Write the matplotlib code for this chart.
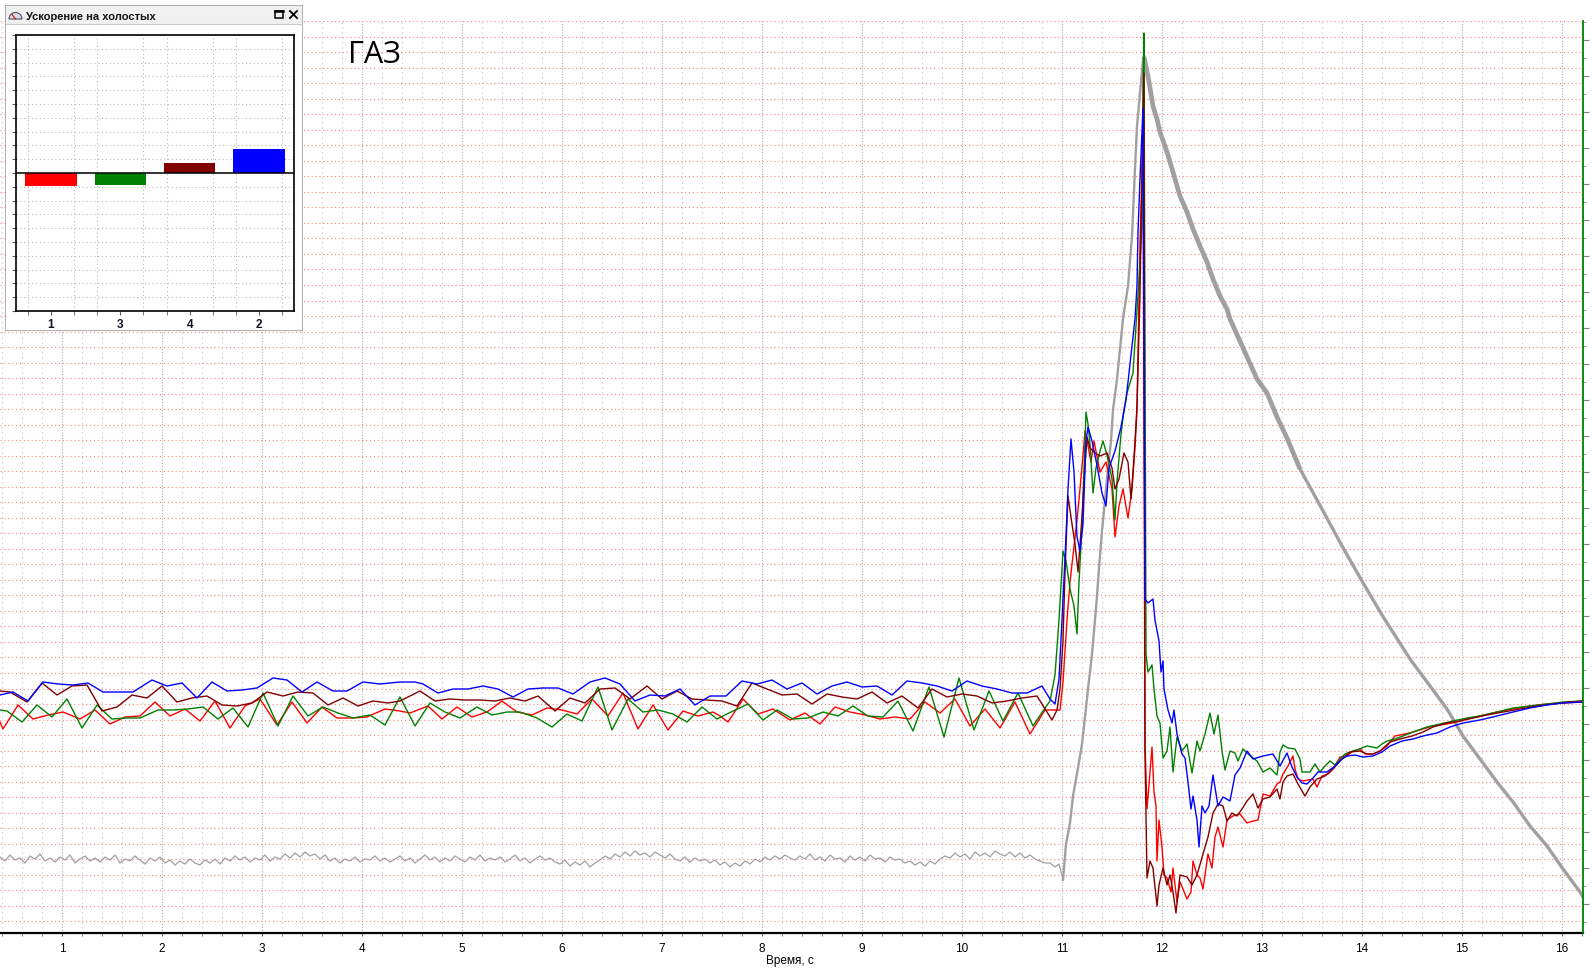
import matplotlib
matplotlib.use("Agg")
import matplotlib.pyplot as plt
import numpy as np
from matplotlib.patches import Rectangle, Wedge

plt.rcParams['font.family'] = ['Liberation Sans', 'DejaVu Sans']

# ---- main chart data: time (s), signal (arb. units) ----
blue = [(0.38,238),(0.51,241),(0.66,232),(0.81,251),(0.96,249),(1.11,248),(1.26,250),(1.41,241),(1.56,241),(1.71,241),
        (1.90,253),(2.05,247),(2.20,250),(2.35,235),(2.50,251),(2.65,242),(2.80,243),(2.95,245),(3.11,255),(3.25,253),
        (3.40,241),(3.55,251),(3.71,242),(3.85,242),(4.01,251),(4.18,249),(4.38,251),(4.53,251),(4.61,249),(4.76,240),
        (4.91,244),(5.06,244),(5.21,247),(5.36,244),(5.51,236),(5.66,244),(5.81,245),(5.96,245),(6.11,239),(6.28,251),
        (6.43,255),(6.58,249),(6.73,232),(6.88,238),(7.03,237),(7.18,244),(7.33,228),(7.48,237),(7.64,237),(7.80,252),
        (7.95,249),(8.10,253),(8.25,244),(8.40,250),(8.55,239),(8.70,247),(8.85,251),(9.00,246),(9.15,247),(9.30,238),
        (9.45,252),(9.60,250),(9.75,247),(9.90,242),(10.05,252),(10.20,247),(10.35,244),(10.50,240),(10.65,240),(10.80,247),
        (10.88,234),(10.93,229),(10.97,254),(11.00,313),(11.03,375),(11.06,444),(11.09,494),(11.12,461),(11.15,396),(11.18,382),
        (11.21,409),(11.24,492),(11.26,506),(11.30,492),(11.35,468),(11.40,440),(11.44,427),(11.47,465),(11.53,482),(11.59,506),
        (11.64,533),(11.73,614),(11.75,647),(11.76,701),(11.78,754),(11.80,801),(11.81,825),(11.83,334),(11.86,330),(11.91,334),
        (11.93,313),(11.97,292),(11.99,261),(12.01,272),(12.02,244),(12.06,223),(12.10,210),(12.12,223),(12.15,199),(12.20,179),
        (12.23,175),(12.26,151),(12.29,124),(12.31,137),(12.35,113),(12.37,86),(12.40,127),(12.43,120),(12.47,127),(12.51,158),
        (12.56,127),(12.61,136),(12.68,132),(12.73,158),(12.78,165),(12.85,182),(12.91,174),(13.01,177),(13.11,179),(13.18,167),
        (13.25,180),(13.30,166),(13.35,156),(13.40,150),(13.45,149),(13.51,155),(13.56,161),(13.65,161),(13.73,167),(13.80,174),
        (13.85,177),(13.93,178),(14.01,176),(14.11,177),(14.20,181),(14.28,187),(14.40,192),(14.51,194),(14.61,197),(14.75,200),
        (14.88,206),(15.01,210),(15.18,213),(15.35,217),(15.51,221),(15.68,225),(15.85,228),(16.01,230),(16.21,231)]

red = [(0.38,211),(0.41,204),(0.56,228),(0.71,214),(0.86,218),(1.01,221),(1.18,214),(1.33,223),(1.48,209),(1.63,216),
       (1.78,217),(1.93,231),(2.08,217),(2.23,224),(2.38,212),(2.53,232),(2.68,205),(2.83,227),(2.98,234),(3.15,208),
       (3.30,231),(3.45,210),(3.60,226),(3.75,215),(3.90,215),(4.05,216),(4.23,224),(4.38,222),(4.48,220),(4.66,227),
       (4.80,214),(4.95,226),(5.10,216),(5.25,221),(5.40,232),(5.55,221),(5.70,218),(5.85,225),(6.00,223),(6.15,219),
       (6.30,234),(6.46,217),(6.61,240),(6.76,204),(6.91,228),(7.06,203),(7.21,222),(7.36,217),(7.51,221),(7.58,217),
       (7.66,211),(7.81,234),(7.96,219),(8.11,224),(8.28,213),(8.43,220),(8.58,209),(8.73,226),(8.88,221),(9.03,218),
       (9.18,214),(9.33,216),(9.48,214),(9.63,231),(9.78,220),(9.93,234),(10.08,207),(10.23,224),(10.38,205),(10.53,231),
       (10.68,199),(10.83,223),(10.91,223),(10.98,223),(11.01,251),(11.05,313),(11.08,351),(11.11,378),(11.15,413),(11.18,444),
       (11.21,478),(11.23,502),(11.26,487),(11.29,471),(11.32,492),(11.38,461),(11.44,471),(11.50,444),(11.53,396),(11.57,427),
       (11.61,444),(11.66,415),(11.70,444),(11.73,485),(11.75,523),(11.77,631),(11.78,690),(11.80,760),(11.81,790),(11.83,190),
       (11.85,124),(11.87,148),(11.90,186),(11.92,141),(11.94,127),(11.95,72),(11.97,113),(12.00,86),(12.02,58),(12.05,55),
       (12.09,41),(12.11,65),(12.15,31),(12.18,51),(12.21,44),(12.25,34),(12.29,41),(12.31,72),(12.35,58),(12.38,55),
       (12.41,44),(12.43,58),(12.46,79),(12.50,65),(12.53,96),(12.56,106),(12.61,86),(12.65,113),(12.71,117),(12.78,119),
       (12.85,110),(12.91,112),(12.96,113),(13.01,139),(13.08,137),(13.15,149),(13.18,151),(13.21,159),(13.26,167),(13.31,177),
       (13.33,164),(13.36,154),(13.41,152),(13.46,153),(13.51,154),(13.55,146),(13.60,157),(13.66,159),(13.71,164),(13.78,176),
       (13.85,177),(13.91,182),(13.98,184),(14.03,179),(14.11,179),(14.18,182),(14.25,187),(14.33,197),(14.43,199),(14.51,201),
       (14.61,204),(14.71,207),(14.85,209),(14.95,211),(15.05,214),(15.18,217),(15.35,221),(15.51,224),(15.68,227),(15.85,229),
       (16.01,230),(16.21,231)]

green = [(0.38,223),(0.45,222),(0.60,211),(0.75,228),(0.90,216),(1.05,234),(1.20,205),(1.35,228),(1.50,214),(1.65,215),
         (1.78,215),(1.96,223),(2.11,223),(2.26,224),(2.41,226),(2.56,214),(2.71,225),(2.86,206),(3.01,240),(3.16,207),
         (3.31,237),(3.46,217),(3.61,226),(3.76,220),(3.91,215),(4.08,218),(4.23,208),(4.38,236),(4.53,207),(4.68,230),
         (4.83,221),(4.98,215),(5.15,226),(5.30,218),(5.45,221),(5.58,221),(5.75,215),(5.90,206),(6.05,219),(6.20,212),
         (6.36,246),(6.50,203),(6.66,234),(6.81,221),(6.96,223),(7.11,219),(7.25,211),(7.40,226),(7.55,214),(7.71,222),
         (7.86,229),(8.01,213),(8.15,223),(8.31,214),(8.46,215),(8.61,221),(8.76,217),(8.91,227),(9.06,217),(9.21,216),
         (9.36,232),(9.51,202),(9.67,246),(9.82,196),(9.97,255),(10.12,203),(10.27,242),(10.41,212),(10.56,240),(10.71,207),
         (10.81,222),(10.88,232),(10.93,258),(10.97,313),(11.01,382),(11.04,372),(11.08,344),(11.12,327),(11.15,299),(11.17,351),
         (11.20,406),(11.24,521),(11.26,509),(11.28,489),(11.31,440),(11.34,465),(11.38,482),(11.41,492),(11.45,478),(11.50,454),
         (11.53,413),(11.55,451),(11.59,499),(11.62,523),(11.65,540),(11.71,560),(11.77,654),(11.80,707),(11.81,851),(11.82,900),
         (11.84,279),(11.86,261),(11.90,268),(11.92,244),(11.95,217),(11.98,210),(12.01,175),(12.05,182),(12.08,206),(12.11,161),
         (12.15,196),(12.20,182),(12.25,189),(12.30,160),(12.35,192),(12.38,182),(12.43,199),(12.48,220),(12.52,199),(12.56,218),
         (12.60,182),(12.63,163),(12.68,182),(12.73,180),(12.76,172),(12.81,184),(12.86,179),(12.95,172),(13.01,161),(13.08,165),
         (13.15,158),(13.18,181),(13.21,188),(13.26,185),(13.33,184),(13.38,174),(13.40,161),(13.45,161),(13.48,161),(13.53,169),
         (13.58,161),(13.63,167),(13.68,172),(13.73,168),(13.78,174),(13.83,179),(13.88,181),(13.95,183),(14.05,187),(14.15,185),
         (14.20,189),(14.25,192),(14.33,194),(14.41,197),(14.51,201),(14.65,206),(14.78,209),(14.91,212),(15.05,215),(15.18,217),
         (15.35,221),(15.51,225),(15.68,227),(15.85,229),(16.01,231),(16.21,232)]

darkred = [(0.38,242),(0.48,241),(0.65,231),(0.80,250),(0.95,238),(1.10,247),(1.25,248),(1.40,222),(1.55,226),(1.70,238),
           (1.85,235),(2.00,247),(2.15,231),(2.30,235),(2.45,237),(2.60,228),(2.75,227),(2.90,230),(3.05,241),(3.21,237),
           (3.36,241),(3.51,240),(3.66,228),(3.81,235),(3.96,227),(4.11,232),(4.26,230),(4.38,232),(4.58,242),(4.73,232),
           (4.88,234),(5.03,233),(5.18,233),(5.33,232),(5.48,235),(5.63,232),(5.76,237),(5.93,222),(6.08,235),(6.23,230),
           (6.38,244),(6.53,245),(6.68,234),(6.85,247),(7.00,234),(7.15,242),(7.30,234),(7.45,233),(7.60,232),(7.75,227),
           (7.90,250),(8.05,244),(8.20,238),(8.35,239),(8.50,229),(8.65,239),(8.80,236),(8.95,234),(9.10,241),(9.25,230),
           (9.40,237),(9.56,225),(9.70,244),(9.85,236),(10.00,239),(10.15,237),(10.30,230),(10.45,232),(10.60,235),(10.75,237),
           (10.90,213),(10.95,223),(10.98,244),(11.01,292),(11.03,361),(11.06,437),(11.10,409),(11.13,389),(11.16,361),(11.20,416),
           (11.23,468),(11.25,496),(11.28,485),(11.33,480),(11.38,477),(11.45,480),(11.50,465),(11.53,444),(11.57,454),(11.62,480),
           (11.66,471),(11.69,434),(11.71,461),(11.73,492),(11.75,527),(11.78,640),(11.80,760),(11.82,860),(11.83,180),(11.85,55),
           (11.88,72),(11.91,65),(11.95,27),(11.97,48),(12.01,65),(12.05,48),(12.08,58),(12.11,41),(12.14,20),(12.18,58),
           (12.25,56),(12.30,48),(12.35,58),(12.41,79),(12.46,96),(12.51,120),(12.56,129),(12.61,127),(12.65,112),(12.70,120),
           (12.75,117),(12.80,124),(12.85,132),(12.91,139),(12.96,125),(13.01,134),(13.08,136),(13.15,144),(13.18,134),(13.21,151),
           (13.25,157),(13.31,159),(13.36,149),(13.43,137),(13.48,146),(13.55,154),(13.63,157),(13.71,164),(13.80,174),(13.88,181),
           (13.98,182),(14.05,179),(14.11,179),(14.18,182),(14.28,191),(14.38,194),(14.50,197),(14.61,201),(14.71,206),(14.85,210),
           (14.98,212),(15.11,215),(15.25,218),(15.41,221),(15.58,224),(15.75,227),(15.91,229),(16.08,231),(16.21,232)]

# gray trace at idle, sampled every 0.05 s from 0.38 s
gray_idle_start = 0.38
gray_idle_step = 0.05
gray_idle = [76,72,78,73,75,70,77,74,79,72,75,71,76,73,78,70,74,77,72,75,
             71,76,73,78,70,74,72,77,73,69,75,72,76,70,73,68,72,69,74,70,
             68,73,70,74,69,75,72,77,73,76,71,75,73,78,72,76,74,79,75,80,
             76,81,77,79,74,78,72,75,70,74,72,76,71,74,73,77,72,75,71,74,
             77,72,75,70,74,78,73,76,71,75,72,77,74,71,76,73,78,72,75,73,
             76,71,74,78,72,75,70,74,77,73,75,71,69,73,67,71,68,72,66,70,
             73,77,74,79,76,81,77,82,78,80,76,81,78,75,79,74,72,76,71,75,
             72,74,70,73,68,71,66,70,67,72,69,74,71,76,73,77,74,78,75,73,
             77,74,79,73,76,72,78,74,75,71,77,73,76,72,78,74,75,71,76,73,
             74,70,72,68,71,67,72,69,74,77,75,80,76,79,74,81,77,80,76,82,
             79,77,81,76,80,75,78,74,72,70]
gray_rise = [(10.88,70),(10.93,66),(10.97,69),(11.01,53),(11.04,89),(11.08,110),(11.11,137),(11.16,165),(11.20,189),
             (11.23,216),(11.26,244),(11.30,279),(11.33,313),(11.35,337),(11.37,365),(11.40,402),(11.43,433),(11.46,465),
             (11.49,492),(11.51,523),(11.55,554),(11.61,614),(11.66,647),(11.70,697),(11.73,764),(11.75,807),(11.78,840),
             (11.80,862),(11.81,872),(11.82,876)]
gray_fall = [(11.82,876),(11.85,862),(11.88,845),(11.91,827),(11.95,814),(11.98,801),(12.05,781),(12.11,761),(12.18,737),
             (12.25,721),(12.31,704),(12.38,687),(12.45,671),(12.51,654),(12.58,637),(12.65,624),(12.68,614),(12.95,554),
             (13.05,540),(13.15,516),(13.25,495),(13.38,464),(13.60,424),(13.80,387),(14.00,352),(14.20,318),(14.48,274),
             (14.68,247),(14.85,224),(15.01,197),(15.18,174),(15.35,151),(15.51,131),(15.68,107),(15.85,87),(16.01,64),
             (16.18,41),(16.21,36)]

# ---- inset bar chart ----
bar_labels = ["1", "3", "4", "2"]
bar_values = [-0.92, -0.85, 0.72, 1.74]
bar_colors = ["#ff0000", "#008000", "#800000", "#0000ff"]

W, H = 1595, 970
fig = plt.figure(figsize=(W / 100, H / 100), dpi=100)
fig.patch.set_facecolor("white")

ax = fig.add_axes([0, 36 / H, 1583 / W, 912 / H])
ax.set_xlim(0.38, 16.21)
ax.set_ylim(0, 912)
ax.set_axisbelow(True)

# grid: red horizontal, gray vertical
ax.set_yticks(11.7 + 15.52 * np.arange(59))
ax.tick_params(axis="y", length=0, labelleft=False)
ax.grid(axis="y", color="#ff8080", linestyle=(0, (1, 2.5)), linewidth=0.8)
ax.set_xticks(np.arange(1, 17))
ax.set_xticks(np.arange(0.4, 16.21, 0.2), minor=True)
ax.grid(axis="x", which="major", color="#b0b0b0", linestyle=(0, (1, 1.5)), linewidth=0.8)
ax.grid(axis="x", which="minor", color="#bcbcbc", linestyle=(0, (1, 3.5)), linewidth=0.8)
ax.tick_params(axis="x", which="both", direction="out", length=2.5, color="#707070",
               labelsize=8.5, pad=4)
for s in ["left", "top", "right"]:
    ax.spines[s].set_visible(False)
ax.spines["bottom"].set_linewidth(1.6)

# gray trace
gt = gray_idle_start + gray_idle_step * np.arange(len(gray_idle))
rt, rv = np.array(gray_rise).T
ft, fv = np.array(gray_fall).T
ax.plot(np.r_[gt, rt[:4]], np.r_[gray_idle, rv[:4]], color="#a0a0a0", lw=0.9)
ax.plot(rt[3:], rv[3:], color="#a0a0a0", lw=1.7)
n_thick = 22
ax.plot(ft[:n_thick], fv[:n_thick], color="#a0a0a0", lw=3.4, solid_capstyle="butt")
ax.plot(ft[n_thick - 1:], fv[n_thick - 1:], color="#a0a0a0", lw=2.4)

for series, col in [(red, "#ff0000"), (green, "#008000"), (darkred, "#800000"), (blue, "#0000ff")]:
    t, v = np.array(series).T
    ax.plot(t, v, color=col, lw=1.0)

# right axis ticks with green spine
ax2 = ax.twinx()
ax2.set_ylim(-0.6, 50.07)
ax2.set_yticks(np.arange(1, 50, 2))
ax2.set_yticks(np.arange(0, 51, 2), minor=True)
ax2.tick_params(axis="y", which="major", length=4, color="#808080", labelright=False)
ax2.tick_params(axis="y", which="minor", length=2, color="#808080")
for s in ["left", "top", "bottom"]:
    ax2.spines[s].set_visible(False)
ax2.spines["right"].set_color("#008000")
ax2.spines["right"].set_linewidth(1.3)

fig.text(790 / W, 1 - 961 / H, "Время, с", ha="center", va="center", fontsize=8.5)
fig.text(348 / W, 1 - 63 / H, "ГАЗ", fontsize=22, family=["Open Sans", "DejaVu Sans"],
         va="baseline", ha="left")

# ---- floating window with bar chart ----
win = fig.add_axes([5 / W, 1 - 332 / H, 298 / W, 326 / H])
win.set_xlim(0, 298)
win.set_ylim(326, 0)
win.axis("off")
win.add_patch(Rectangle((0, 0), 298, 326, facecolor="white", edgecolor="#a0a0a0", lw=1.2))
win.add_patch(Rectangle((0.6, 0.6), 296.8, 18.5, facecolor="#f0f0f0", edgecolor="none"))
win.plot([0.6, 297.4], [19.2, 19.2], color="#c8c8c8", lw=0.8)
win.add_patch(Wedge((10.5, 14), 6.5, 180, 360, facecolor="#dcdce8", edgecolor="#505060", lw=0.8))
win.plot([10.5, 7], [14, 9.5], color="#d02020", lw=0.9)
win.text(21, 10.5, "Ускорение на холостых", fontsize=8, fontweight="bold",
         va="center", ha="left", color="#151515")
win.add_patch(Rectangle((270, 6), 8, 7, facecolor="none", edgecolor="black", lw=1.1))
win.plot([270, 278], [6.3, 6.3], color="black", lw=1.8)
win.plot([285, 292], [6, 13], color="black", lw=1.3)
win.plot([285, 292], [13, 6], color="black", lw=1.3)

bx = fig.add_axes([16.3 / W, 1 - 312 / H, 277.4 / W, 276 / H])
bx.set_xlim(-0.5, 3.5)
bx.set_ylim(-10, 10)
bx.set_axisbelow(True)
bx.set_xticks(np.arange(len(bar_labels)))
bx.set_xticklabels(bar_labels, fontsize=8.5, fontweight="bold", color="#101028")
bx.set_xticks(np.arange(-1, 11) / 3, minor=True)
bx.set_yticks(np.arange(-10, 11))
bx.tick_params(axis="y", length=3, color="#606060", labelleft=False)
bx.tick_params(axis="x", which="both", length=3, color="#606060", pad=2)
bx.grid(axis="x", which="minor", color="#b8b8b8", linestyle=(0, (1, 2.5)), linewidth=0.8)
bx.grid(axis="y", color="#b8b8b8", linestyle=(0, (1, 2.5)), linewidth=0.8)
for s in bx.spines.values():
    s.set_linewidth(1.2)
bx.bar(np.arange(len(bar_values)), bar_values, width=0.74, color=bar_colors, zorder=2)
bx.axhline(0, color="black", lw=1.1, zorder=3)

fig.savefig("out.png", dpi=100)
